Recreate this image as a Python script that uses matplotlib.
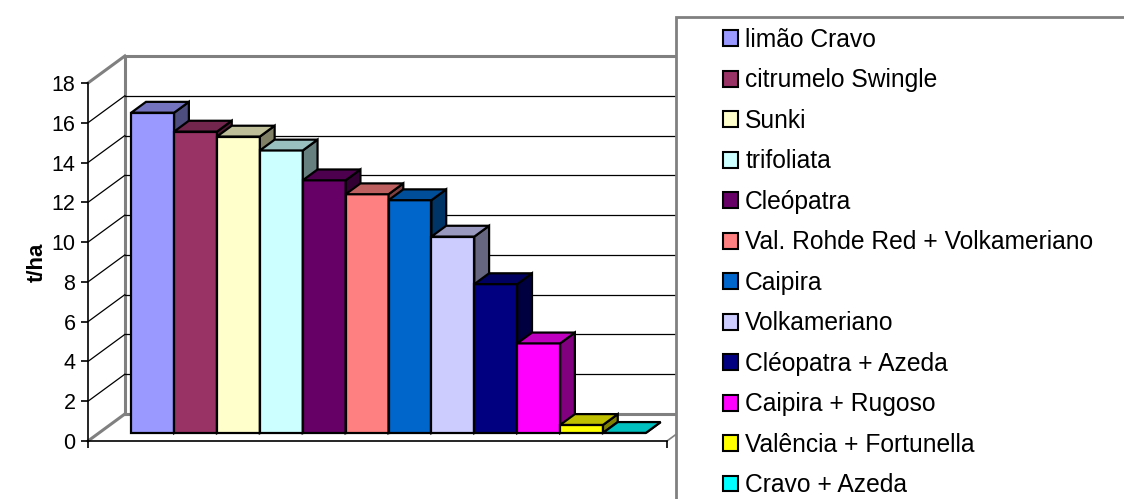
import numpy as np
import matplotlib.pyplot as plt
from matplotlib.patches import Polygon, Rectangle, Patch
from matplotlib.colors import to_rgb

plt.rcParams['font.family'] = ['Liberation Sans', 'DejaVu Sans']

# data
series = ["limão Cravo", "citrumelo Swingle", "Sunki", "trifoliata", "Cleópatra",
          "Val. Rohde Red + Volkameriano", "Caipira", "Volkameriano",
          "Cléopatra + Azeda", "Caipira + Rugoso", "Valência + Fortunella",
          "Cravo + Azeda"]
values = [16.1, 15.15, 14.9, 14.2, 12.7, 12.0, 11.7, 9.87, 7.48, 4.5, 0.4, 0.0]
colors = ["#9999FF", "#993366", "#FFFFCC", "#CCFFFF", "#660066", "#FF8080",
          "#0066CC", "#CCCCFF", "#000080", "#FF00FF", "#FFFF00", "#00FFFF"]
yticks = list(range(0, 19, 2))

# 3d look (in data units)
GAP = 0.75                      # empty space left/right of the cluster, in bar widths
XMAX = 2 * GAP + len(values)
DX, DY = 0.86, 1.36             # wall depth offset
F0, F1 = 0.30, 0.70             # bar depth, as fraction of wall depth
YMAX = 18

W, H = 1124, 499
fig = plt.figure(figsize=(W / 100, H / 100), dpi=100)
ax = fig.add_axes([88 / W, (H - 441) / H, (667 - 88) / W, (441 - 83) / H])
ax.set_xlim(0, XMAX)
ax.set_ylim(0, YMAX)
ax.patch.set_visible(False)

wall_gray = "#808080"

# back wall + left wall outline
ax.plot([DX, DX, XMAX + DX], [DY, YMAX + DY, YMAX + DY], color=wall_gray, lw=2.2,
        clip_on=False, zorder=1, solid_capstyle='projecting')
ax.plot([DX, XMAX + DX], [DY, DY], color=wall_gray, lw=2.2, clip_on=False, zorder=1)
ax.plot([0, DX], [0, DY], color=wall_gray, lw=2.2, clip_on=False, zorder=1)
ax.plot([0, DX], [YMAX, YMAX + DY], color=wall_gray, lw=2.2, clip_on=False, zorder=1)
ax.plot([XMAX, XMAX + DX], [0, DY], color=wall_gray, lw=1.2, clip_on=False, zorder=1)

# gridlines on back and side walls
for v in yticks[1:-1]:
    ax.plot([DX, XMAX + DX], [v + DY, v + DY], color="black", lw=0.9,
            clip_on=False, zorder=1)
    ax.plot([0, DX], [v, v + DY], color="black", lw=0.9, clip_on=False, zorder=1)

# bars
ddx, ddy = (F1 - F0) * DX, (F1 - F0) * DY
for i, (v, c) in enumerate(zip(values, colors)):
    rgb = np.array(to_rgb(c))
    x0 = GAP + i + F0 * DX
    y0 = F0 * DY
    z = 3 + i * 0.1
    ax.bar(x0, v, width=1, bottom=y0, align='edge', color=c, edgecolor="black",
           lw=1.6, zorder=z, clip_on=False)
    top = [(x0, y0 + v), (x0 + 1, y0 + v), (x0 + 1 + ddx, y0 + v + ddy),
           (x0 + ddx, y0 + v + ddy)]
    side = [(x0 + 1, y0), (x0 + 1, y0 + v), (x0 + 1 + ddx, y0 + v + ddy),
            (x0 + 1 + ddx, y0 + ddy)]
    ax.add_patch(Polygon(side, closed=True, fc=rgb * 0.5, ec="black", lw=1.6,
                         zorder=z, clip_on=False, joinstyle='miter'))
    ax.add_patch(Polygon(top, closed=True, fc=rgb * 0.75, ec="black", lw=1.6,
                         zorder=z + 0.01, clip_on=False, joinstyle='miter'))

# axes
for s in ["top", "right"]:
    ax.spines[s].set_visible(False)
ax.spines["left"].set_linewidth(1.2)
ax.spines["bottom"].set_linewidth(1.2)
ax.set_yticks(yticks)
ax.set_xticks([0, XMAX])
ax.set_xticklabels([])
ax.tick_params(axis="y", direction="out", length=5, width=1.2, labelsize=15.5, pad=4)
ax.tick_params(axis="x", direction="out", length=5, width=1.2)
ax.set_ylabel("t/ha", fontsize=16, fontweight="bold", labelpad=3)

# legend box (runs off the figure at right and bottom)
box = Rectangle((676 / W, -0.1), 1.0, 1.1 - 17 / H, transform=fig.transFigure,
                facecolor="white", edgecolor=wall_gray, lw=2, zorder=2)
fig.patches.append(box)
handles = [Patch(facecolor=c, edgecolor="black", lw=1.5) for c in colors]
fig.legend(handles, series, loc="upper left", bbox_to_anchor=(723 / W, 1 - 28 / H),
           frameon=False, fontsize=17.7, handlelength=0.62, handleheight=0.62,
           handletextpad=0.28, labelspacing=0.67, borderpad=0, borderaxespad=0)

fig.savefig("out.png", dpi=100)
